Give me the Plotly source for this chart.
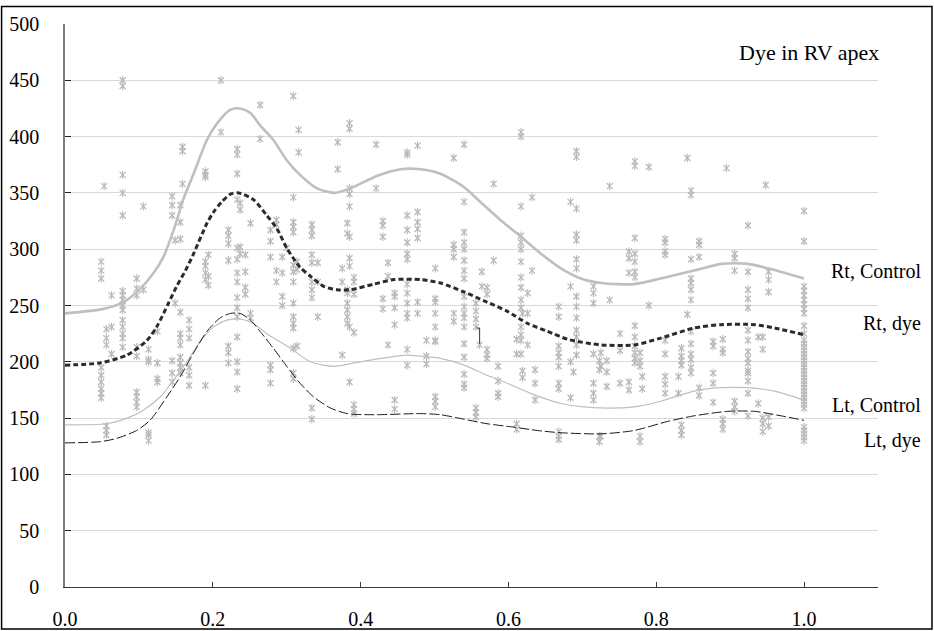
import plotly.graph_objects as go

# ---------------- data ----------------
rt_control_x = [0.0, 0.052, 0.079, 0.102, 0.120, 0.133, 0.147, 0.160, 0.174, 0.192, 0.206, 0.224, 0.237,
                0.251, 0.264, 0.282, 0.300, 0.318, 0.341, 0.364, 0.386, 0.422, 0.454, 0.481, 0.508, 0.540,
                0.562, 0.589, 0.617, 0.644, 0.671, 0.698, 0.725, 0.770, 0.806, 0.851, 0.888, 0.924, 0.951, 1.0]
rt_control_y = [243, 247, 253, 265, 279, 293, 317, 344, 367, 397, 412, 424, 425,
                421, 410, 397, 379, 366, 354, 350, 354, 365, 371, 371, 367, 355,
                342, 326, 311, 296, 283, 274, 270, 269, 274, 281, 287, 287, 283, 274]

rt_dye_x = [0.0, 0.047, 0.084, 0.111, 0.124, 0.140, 0.151, 0.163, 0.174, 0.192, 0.201, 0.212, 0.224, 0.235,
            0.255, 0.273, 0.287, 0.300, 0.318, 0.332, 0.350, 0.368, 0.386, 0.418, 0.445, 0.481, 0.508,
            0.540, 0.571, 0.598, 0.626, 0.653, 0.680, 0.725, 0.770, 0.806, 0.851, 0.888, 0.933, 0.960, 1.0]
rt_dye_y = [197, 199, 206, 219, 231, 252, 267, 281, 296, 323, 333, 342, 349, 350,
            344, 330, 318, 301, 284, 276, 267, 264, 264, 269, 273, 273, 270,
            262, 253, 245, 234, 227, 220, 215, 215, 221, 230, 233, 233, 230, 224]

lt_control_x = [0.0, 0.056, 0.084, 0.106, 0.129, 0.147, 0.165, 0.183, 0.201, 0.219, 0.237, 0.255, 0.273,
                0.305, 0.332, 0.364, 0.391, 0.427, 0.463, 0.481, 0.508, 0.540, 0.571, 0.598, 0.630, 0.671,
                0.702, 0.725, 0.770, 0.806, 0.851, 0.888, 0.924, 0.960, 1.0]
lt_control_y = [144, 145, 150, 157, 169, 184, 200, 218, 231, 237, 238, 234, 225,
                212, 200, 196, 199, 203, 206, 205, 203, 197, 188, 181, 172, 163,
                160, 159, 160, 165, 174, 177, 177, 174, 166]

lt_dye_x = [0.0, 0.047, 0.070, 0.097, 0.115, 0.138, 0.156, 0.174, 0.192, 0.210, 0.224, 0.237, 0.251,
            0.264, 0.282, 0.300, 0.318, 0.336, 0.359, 0.382, 0.418, 0.481, 0.508, 0.540, 0.571, 0.607,
            0.639, 0.671, 0.725, 0.770, 0.815, 0.851, 0.897, 0.933, 0.969, 1.0]
lt_dye_y = [128, 129, 132, 139, 148, 169, 187, 208, 227, 239, 243, 243, 237,
            227, 212, 196, 181, 169, 159, 154, 153, 154, 153, 149, 145, 142,
            139, 137, 136, 139, 147, 152, 156, 156, 152, 148]

# individual measurements: x position of each column and the values in it
column_x = [0.049, 0.053, 0.056, 0.063, 0.078, 0.097, 0.106, 0.113, 0.125, 0.145, 0.149, 0.156, 0.159,
            0.168, 0.190, 0.194, 0.211, 0.221, 0.233, 0.237, 0.244, 0.251, 0.264, 0.278, 0.286, 0.294,
            0.300, 0.309, 0.314, 0.316, 0.334, 0.342, 0.369, 0.375, 0.382, 0.385, 0.391, 0.421, 0.430,
            0.437, 0.446, 0.463, 0.477, 0.489, 0.501, 0.526, 0.540, 0.556, 0.561, 0.564, 0.571, 0.580,
            0.586, 0.611, 0.617, 0.619, 0.626, 0.632, 0.636, 0.668, 0.684, 0.688, 0.692, 0.715, 0.723,
            0.725, 0.733, 0.737, 0.751, 0.763, 0.771, 0.778, 0.781, 0.790, 0.812, 0.830, 0.834, 0.842,
            0.847, 0.858, 0.877, 0.890, 0.895, 0.906, 0.924, 0.938, 0.944, 0.948, 0.952, 1.0]
column_y = [
    [289, 281, 274, 195, 188, 182, 176, 172, 168],
    [356],
    [229, 221, 215, 143, 139, 135],
    [259, 231, 207],
    [450, 445, 366, 350, 330, 263, 259, 255, 250, 246, 237, 231, 225, 221, 213],
    [274, 265, 259, 213, 205, 173, 169, 164, 160],
    [338, 264],
    [211, 202, 200, 137, 135, 130],
    [227, 199, 185, 182],
    [347, 339, 330, 201, 190, 182],
    [308, 252],
    [339, 324, 309, 244, 225, 221, 215, 204, 199, 195, 190],
    [391, 387, 358],
    [237, 229, 221, 195, 188, 179],
    [369, 366, 364, 289, 285, 279, 273, 179],
    [295, 276, 268],
    [450, 404],
    [317, 312, 305, 290, 214, 208, 199],
    [389, 384, 367, 344, 301, 291, 279, 271, 257, 248, 240, 222, 200, 191, 176],
    [341, 335, 302, 296],
    [295, 280, 266, 260],
    [323, 243, 239],
    [428, 398],
    [317, 307, 293, 197, 193, 181],
    [326, 322, 281, 271],
    [293, 279, 258, 250],
    [301],
    [436, 346, 324, 320, 315, 286, 280, 271, 252, 240, 234, 230, 212, 190, 185],
    [289, 282, 214],
    [406, 386],
    [322, 317, 312, 295, 288, 271, 264, 257, 159, 149],
    [288, 271, 240],
    [395, 371],
    [283, 271, 206],
    [323, 314, 264, 261, 252, 246, 240, 234],
    [412, 407, 354, 349, 338, 311, 292, 285, 231, 182],
    [275, 271, 260, 226, 162, 158, 154],
    [393, 354],
    [325, 321, 311, 256, 247],
    [288, 276, 215],
    [261, 258, 248, 233, 166, 158],
    [386, 384, 330, 317, 306, 296, 291, 269, 261, 252, 243, 239, 211, 197],
    [392, 333, 324, 318, 310, 253, 243],
    [219, 205, 198],
    [283, 256, 253, 243, 231, 219, 218, 169, 165, 160],
    [381, 304, 300, 293, 243, 236],
    [393, 342, 315, 306, 300, 290, 281, 274, 258, 249, 243, 239, 231, 216, 204, 189, 180, 177],
    [252, 245, 238, 231, 159, 155, 151],
    [215],
    [280, 267],
    [266, 260, 211, 206, 203],
    [358, 290],
    [196, 183, 172, 169],
    [220, 207, 145, 140],
    [404, 400, 338, 312, 306, 300, 289, 275, 266, 255, 248, 231, 224, 219, 207],
    [243, 192, 186],
    [261, 243, 215],
    [346, 281],
    [193, 181, 166],
    [249, 240, 214, 208, 204, 196, 181, 176, 138, 134, 131],
    [342, 267, 200, 168],
    [191],
    [387, 382, 336, 313, 308, 291, 283, 258, 249, 239, 228, 222, 215, 206],
    [267, 261, 252, 207, 181, 172, 166],
    [201, 193, 134, 129],
    [208, 196, 134],
    [201, 191, 178],
    [356, 255],
    [225, 210, 181],
    [298, 292, 279, 182, 175],
    [378, 374, 310, 296, 289, 280, 275, 232, 222, 214, 208, 203, 199],
    [208, 201, 196, 134, 129],
    [187, 176],
    [373, 250],
    [309, 306, 298, 295, 219, 207, 187, 180, 172],
    [187, 172],
    [212, 205, 201, 197, 144, 139, 135],
    [381, 242],
    [352, 348, 291, 274, 270, 264, 255, 227, 216, 207, 202, 195, 190],
    [307, 304, 293, 177, 170],
    [218, 214, 190, 181, 164],
    [220, 211, 208, 149, 145, 140],
    [372],
    [296, 292, 281, 165, 160, 156],
    [321, 280, 264, 256, 248, 228, 219, 209, 203, 199, 192, 190, 183, 172, 152],
    [222, 163],
    [222, 211, 150, 145, 138],
    [357],
    [280, 273, 262, 151, 143],
    [334, 307, 267, 263, 259, 255, 251, 247, 243, 232, 225, 219, 216, 213, 210, 207, 204, 201,
     198, 195, 192, 189, 186, 183, 180, 177, 174, 171, 168, 165, 162, 159, 142, 139, 136, 133, 130],
]

# stray bracket mark near x = 0.56
stray_x = [0.557, 0.561, 0.561]
stray_y = [230, 230, 216]

series_labels = ["Rt, Control", "Rt, dye", "Lt, Control", "Lt, dye"]
panel_title = "Dye in RV apex"
x_ticks = [0.0, 0.2, 0.4, 0.6, 0.8, 1.0]
y_ticks = [0, 50, 100, 150, 200, 250, 300, 350, 400, 450, 500]

# ---------------- figure ----------------
pts_x, pts_y = [], []
for cx, ys in zip(column_x, column_y):
    for v in ys:
        pts_x.append(cx)
        pts_y.append(v)

FONT = "Liberation Serif, Times New Roman, serif"
MARK = "#b9b9b9"

fig = go.Figure()
fig.add_trace(go.Scatter(x=pts_x, y=pts_y, mode="markers",
                         marker=dict(symbol="x-thin-open", size=6, color=MARK, line=dict(color=MARK, width=1.3)),
                         hoverinfo="skip", showlegend=False))
fig.add_trace(go.Scatter(x=pts_x, y=pts_y, mode="markers",
                         marker=dict(symbol="line-ns-open", size=6, color=MARK, line=dict(color=MARK, width=1.1)),
                         hoverinfo="skip", showlegend=False))

fig.add_trace(go.Scatter(x=rt_control_x, y=rt_control_y, mode="lines", name=series_labels[0],
                         line=dict(color="#bfbfbf", width=2.6, shape="spline", smoothing=0.7), showlegend=False))
fig.add_trace(go.Scatter(x=lt_control_x, y=lt_control_y, mode="lines", name=series_labels[2],
                         line=dict(color="#bfbfbf", width=1.2, shape="spline", smoothing=0.7), showlegend=False))
fig.add_trace(go.Scatter(x=rt_dye_x, y=rt_dye_y, mode="lines", name=series_labels[1],
                         line=dict(color="#2b2b2b", width=3, dash="5px,3px", shape="spline", smoothing=0.7),
                         showlegend=False))
fig.add_trace(go.Scatter(x=lt_dye_x, y=lt_dye_y, mode="lines", name=series_labels[3],
                         line=dict(color="#1a1a1a", width=1, dash="10px,3px", shape="spline", smoothing=0.7),
                         showlegend=False))
fig.add_trace(go.Scatter(x=stray_x, y=stray_y, mode="lines", line=dict(color="#333333", width=1),
                         hoverinfo="skip", showlegend=False))

# series labels at the right edge, next to the curve ends
label_y = [281, 234, 162, 130]
for txt, yy in zip(series_labels, label_y):
    fig.add_annotation(x=1.0554, xref="paper", y=yy, yref="y", text=txt, showarrow=False,
                       xanchor="right", yanchor="middle", font=dict(family=FONT, size=20, color="#000"))
fig.add_annotation(x=1.007, xref="x", y=475, yref="y", text=panel_title, showarrow=False,
                   xanchor="center", yanchor="middle", font=dict(family=FONT, size=22, color="#000"))

# outer frame
fig.add_shape(type="rect", xref="paper", yref="paper", x0=-0.078, x1=1.0664, y0=-0.0746, y1=1.031,
              line=dict(color="#000", width=1.5), layer="above")

fig.update_layout(
    width=934, height=631,
    margin=dict(l=65, r=56, t=24, b=44, autoexpand=False),
    paper_bgcolor="white", plot_bgcolor="white",
    font=dict(family=FONT, size=20, color="#000"),
    showlegend=False,
)
fig.update_xaxes(range=[0, 1.1], tickvals=x_ticks, ticktext=[f"{v:.1f}" for v in x_ticks],
                 showgrid=False, zeroline=False, showline=True, linecolor="#3a3a3a", linewidth=1.3,
                 ticks="inside", ticklen=5, tickcolor="#3a3a3a", ticklabelstandoff=14, automargin=False,
                 tickfont=dict(family=FONT, size=20))
fig.update_yaxes(range=[0, 500], tickvals=y_ticks, showgrid=True, gridcolor="#d9d9d9", gridwidth=1,
                 zeroline=False, showline=True, linecolor="#7f7f7f", linewidth=1.5,
                 ticks="inside", ticklen=6, tickcolor="#222", ticklabelstandoff=20, automargin=False,
                 tickfont=dict(family=FONT, size=20))

fig.write_html("out.html", config={"displayModeBar": False},
               post_script="document.body.style.margin='0';document.body.style.overflow='hidden';")
